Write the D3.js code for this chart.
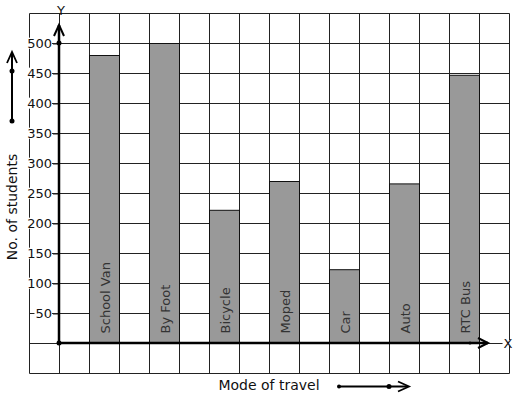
<!DOCTYPE html>
<html><head><meta charset="utf-8">
<script src="https://cdn.jsdelivr.net/npm/d3@7"></script>
<style>body{margin:0;background:#fff}svg{display:block}text{font-family:"DejaVu Sans",sans-serif}</style>
</head><body>
<svg id="c" width="517" height="399"></svg>
<script>
const categories = ["School Van","By Foot","Bicycle","Moped","Car","Auto","RTC Bus"];
const values = [480, 500, 222, 270, 123, 266, 447];
const yTicks = [50,100,150,200,250,300,350,400,450,500];
const xTitle = "Mode of travel";
const yTitle = "No. of students";

const svg = d3.select("#c");
// column units: each grid cell is one unit; y axis at column 0
const x = d3.scaleLinear().domain([-1, 15]).range([29, 509]);
const y = d3.scaleLinear().domain([-50, 550]).range([373, 13]);
const ink = "#222";

// grid
const g = svg.append("g").attr("transform","translate(0.5,0.5)");
g.selectAll(".vg").data(d3.range(-1, 16)).join("line")
  .attr("x1", d=>x(d)).attr("x2", d=>x(d)).attr("y1", y(550)).attr("y2", y(-50))
  .attr("stroke", ink).attr("stroke-width", 1);
g.selectAll(".hg").data(d3.range(-50, 551, 50)).join("line")
  .attr("x1", x(-1)).attr("x2", x(15)).attr("y1", d=>y(d)).attr("y2", d=>y(d))
  .attr("stroke", ink).attr("stroke-width", 1);

// bars
const bars = g.selectAll(".bar").data(categories).join("g");
bars.append("rect")
  .attr("x", (d,i)=>x(1+2*i)).attr("width", x(2)-x(1))
  .attr("y", (d,i)=>y(values[i])).attr("height", (d,i)=>y(0)-y(values[i]))
  .attr("fill", "#999").attr("stroke", "#111").attr("stroke-width", 1);
bars.append("text")
  .attr("transform", (d,i)=>`translate(${x(1.5+2*i)+5},${y(0)-10}) rotate(-90)`)
  .attr("font-size", 13).attr("fill", "#333").text(d=>d);

// y tick labels via axis
const ax = svg.append("g").attr("transform", `translate(${x(0)},0)`)
  .call(d3.axisLeft(y).tickValues(yTicks).tickSize(6).tickPadding(1));
ax.attr("font-size", 13).attr("font-family", "DejaVu Sans");
ax.select(".domain").remove();
ax.selectAll(".tick line").attr("stroke", ink).attr("transform","translate(0,0.5)");
ax.selectAll(".tick text").attr("font-size", 13).attr("fill", "#111");
ax.selectAll(".tick").each(function(){
  const t = d3.select(this).select("text");
  const b = t.node().getBBox();
  d3.select(this).insert("rect","text").attr("x", b.x-1).attr("y", b.y+2)
    .attr("width", b.width+1).attr("height", b.height-4).attr("fill","#fff");
});

// axes lines (thick)
const A = svg.append("g").attr("stroke", "#000").attr("stroke-width", 2.5).attr("fill","none");
A.append("line").attr("x1", x(0)).attr("x2", x(0)).attr("y1", y(0)).attr("y2", y(530));
A.append("path").attr("d", `M${x(0)-5},${y(530)+11}L${x(0)},${y(530)}L${x(0)+5},${y(530)+11}`).attr("stroke-width",2);
A.append("line").attr("x1", x(0)).attr("x2", x(14.3)).attr("y1", y(0)).attr("y2", y(0));
A.append("path").attr("d", `M${x(14.3)-10},${y(0)-5}L${x(14.3)},${y(0)}L${x(14.3)-10},${y(0)+5}`).attr("stroke-width",2);
svg.append("circle").attr("cx", x(0)).attr("cy", y(0)).attr("r", 2.5).attr("fill","#000");
svg.append("circle").attr("cx", x(0)).attr("cy", y(500)).attr("r", 2.5).attr("fill","#000");
svg.append("circle").attr("cx", x(13.7)).attr("cy", y(0)).attr("r", 1.5).attr("fill","#000");

// axis letters with white backing
function label(txt, cx, cy){
  const grp = svg.append("g");
  const r = grp.append("rect").attr("fill","#fff");
  const t = grp.append("text").attr("x", cx).attr("y", cy).attr("text-anchor","middle")
    .attr("dominant-baseline","central").attr("font-size", 13).attr("fill","#111").text(txt);
  const b = t.node().getBBox();
  r.attr("x", b.x-1).attr("y", cy-3).attr("width", b.width+2).attr("height", 6);
}
label("Y", x(0)+2, y(550)-3);
label("X", x(15)-1, y(0));

// titles
svg.append("text").attr("transform", `translate(17,207) rotate(-90)`).attr("text-anchor","middle")
  .attr("font-size", 14).attr("fill","#111").text(yTitle);
svg.append("text").attr("x", 269).attr("y", 390).attr("text-anchor","middle")
  .attr("font-size", 14).attr("fill","#111").text(xTitle);

// decorative arrows
const D = svg.append("g").attr("stroke","#000").attr("fill","none");
D.append("line").attr("x1",12).attr("x2",12).attr("y1",121).attr("y2",53).attr("stroke-width",2);
D.append("path").attr("d","M7,63L12,52L17,63").attr("stroke-width",1.8);
svg.append("circle").attr("cx",12).attr("cy",71).attr("r",2.5);
svg.append("circle").attr("cx",12).attr("cy",121).attr("r",2.5);
D.append("line").attr("x1",339).attr("x2",408).attr("y1",386.5).attr("y2",386.5).attr("stroke-width",2);
D.append("path").attr("d","M398,381.5L409,386.5L398,391.5").attr("stroke-width",1.8);
svg.append("circle").attr("cx",339).attr("cy",386.5).attr("r",2);
svg.append("circle").attr("cx",389).attr("cy",386.5).attr("r",2.5);
</script>
</body></html>
